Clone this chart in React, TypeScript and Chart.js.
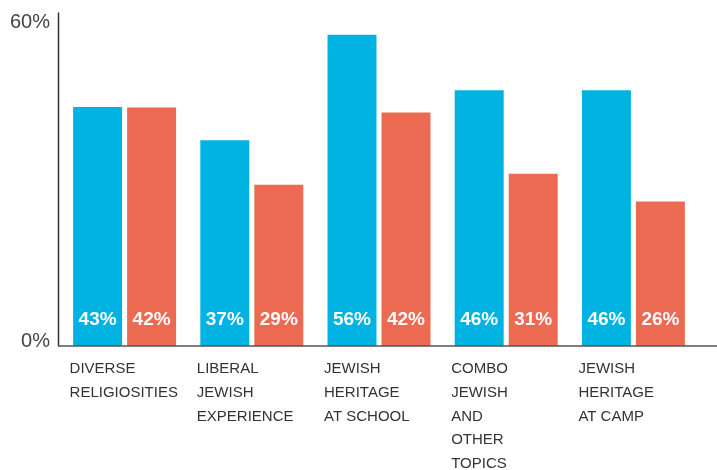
import React, { useEffect, useRef } from "react";
import { Chart, registerables } from "chart.js";

Chart.register(...registerables);

const categories: string[][] = [
  ["DIVERSE", "RELIGIOSITIES"],
  ["LIBERAL", "JEWISH", "EXPERIENCE"],
  ["JEWISH", "HERITAGE", "AT SCHOOL"],
  ["COMBO", "JEWISH", "AND", "OTHER", "TOPICS"],
  ["JEWISH", "HERITAGE", "AT CAMP"],
];
const blueValues = [43, 37, 56, 46, 46];
const redValues = [42.9, 29, 42, 31, 26];
const blueLabels = ["43%", "37%", "56%", "46%", "46%"];
const redLabels = ["42%", "29%", "42%", "31%", "26%"];
const yTickValues = [0, 60];
const yTickLabels = ["0%", "60%"];

const BLUE = "#00B3E3";
const RED = "#EC6A52";
const FONT = "'Liberation Sans', Arial, sans-serif";

export default function App() {
  const ref = useRef<HTMLCanvasElement | null>(null);

  useEffect(() => {
    const canvas = ref.current;
    if (!canvas) return;

    const overlay = {
      id: "overlay",
      afterDatasetsDraw(chart: any) {
        const ctx = chart.ctx;
        const y = chart.scales.y;
        const area = chart.chartArea;
        const base = y.getPixelForValue(0);
        ctx.save();
        // axis lines
        ctx.strokeStyle = "#333";
        ctx.lineWidth = 1.5;
        ctx.beginPath();
        ctx.moveTo(area.left - 2.5, area.top);
        ctx.lineTo(area.left - 2.5, base);
        ctx.stroke();
        ctx.strokeStyle = "#555";
        ctx.beginPath();
        ctx.moveTo(area.left - 3, base);
        ctx.lineTo(chart.width, base);
        ctx.stroke();
        // value labels
        ctx.fillStyle = "#fff";
        ctx.font = `bold 19px ${FONT}`;
        ctx.textAlign = "center";
        ctx.textBaseline = "middle";
        const sets = [blueLabels, redLabels];
        chart.data.datasets.forEach((_: any, di: number) => {
          const meta = chart.getDatasetMeta(di);
          meta.data.forEach((el: any, i: number) => {
            ctx.fillText(sets[di][i], el.x, base - 26);
          });
        });
        // y tick labels
        ctx.fillStyle = "#444";
        ctx.font = `20px ${FONT}`;
        ctx.textAlign = "right";
        yTickValues.forEach((v, i) => {
          const py = y.getPixelForValue(v);
          const dy = v === 0 ? -5 : 10;
          ctx.fillText(yTickLabels[i], area.left - 11, py + dy);
        });
        ctx.restore();
      },
    };

    const chart = new Chart(canvas, {
      type: "bar",
      data: {
        labels: categories,
        datasets: [
          {
            data: blueValues,
            backgroundColor: BLUE,
            borderWidth: 0,
            barPercentage: 0.907,
            categoryPercentage: 0.849,
          },
          {
            data: redValues,
            backgroundColor: RED,
            borderWidth: 0,
            barPercentage: 0.907,
            categoryPercentage: 0.849,
          },
        ],
      },
      options: {
        animation: false,
        responsive: false,
        devicePixelRatio: 1,
        layout: { padding: { left: 61, right: 20, top: 12.5, bottom: 0 } },
        plugins: {
          legend: { display: false },
          tooltip: { enabled: false },
        },
        scales: {
          x: {
            grid: { display: false, drawTicks: false },
            border: { display: false },
            ticks: {
              autoSkip: false,
              maxRotation: 0,
              minRotation: 0,
              align: "start",
              labelOffset: -55,
              padding: 11,
              color: "#333",
              font: { family: FONT, size: 15, lineHeight: 1.585 },
            },
            afterFit: (scale: any) => {
              scale.height = 124;
              scale.paddingLeft = 0;
              scale.paddingRight = 0;
            },
          },
          y: {
            display: false,
            min: 0,
            max: 60,
          },
        },
      },
      plugins: [overlay],
    });

    return () => chart.destroy();
  }, []);

  return (
    <div
      style={{
        position: "fixed",
        left: 0,
        top: 0,
        width: 717,
        height: 470,
        background: "#fff",
      }}
    >
      <canvas ref={ref} width={717} height={470} />
    </div>
  );
}
